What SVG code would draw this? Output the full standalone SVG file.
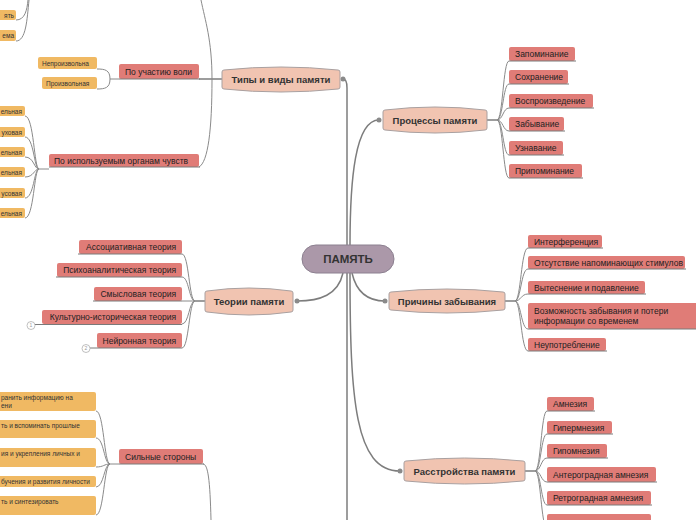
<svg xmlns="http://www.w3.org/2000/svg" width="696" height="520" viewBox="0 0 696 520">
<style>
.bg{fill:#ffffff}
.cn{fill:none;stroke:#8a8a8a;stroke-width:1}
.mc{fill:none;stroke:#7d7d7d;stroke-width:1.5}
.dot{fill:#8a8a8a}
.br{fill:#f1c4b1;stroke:#a9a0a0;stroke-width:1}
.brt{font-family:"Liberation Sans",Arial,sans-serif;font-size:9.5px;font-weight:bold;fill:#333;text-anchor:middle}
.ctr{fill:#ab98a9;stroke:#8c8090;stroke-width:1}
.ctt{font-family:"Liberation Sans",Arial,sans-serif;font-size:11.5px;font-weight:bold;fill:#333;text-anchor:middle}
.rd{fill:#e07c77}
.rdt{font-family:"Liberation Sans",Arial,sans-serif;font-size:8.5px;fill:#222}
.og{fill:#f0b963}
.ogt{font-family:"Liberation Sans",Arial,sans-serif;font-size:6.5px;fill:#333}
.ul{stroke:#7a7a7a;stroke-width:1}
.num{fill:#fff;stroke:#b0b0b0;stroke-width:0.8}
.numt{font-family:"Liberation Sans",Arial,sans-serif;font-size:5px;fill:#999;text-anchor:middle}
.end{text-anchor:end}
</style>
<rect class="bg" x="0" y="0" width="696" height="520"/>

<g id="connectors">
  <!-- main connectors from center -->
  <path class="mc" d="M347,245 L347,88 Q347,79 343,79"/>
  <path class="mc" d="M350,245 C350,180 355,120 379,120"/>
  <path class="mc" d="M343,273 C338,295 320,301 297,301"/>
  <path class="mc" d="M352,273 C357,295 370,301 385,301"/>
  <path class="mc" d="M350,273 C350,400 355,471 400,471"/>
  <path class="mc" d="M347,273 L347,520"/>
  <circle class="dot" cx="343" cy="79" r="2.5"/>
  <circle class="dot" cx="379" cy="120" r="2.5"/>
  <circle class="dot" cx="297" cy="301" r="2.5"/>
  <circle class="dot" cx="385" cy="301" r="2.5"/>
  <circle class="dot" cx="400" cy="471" r="2.5"/>

  <!-- Типы и виды памяти -->
  <path class="mc" d="M222,79 L199,79"/>
  <path class="cn" d="M212,79 C212,40 205,20 201,0"/>
  <path class="cn" d="M212,79 C212,130 208,162 199,167"/>
  <!-- По участию воли children -->
  <path class="cn" d="M119,79 L110,79"/>
  <path class="cn" d="M110,79 C110,70 105,69 97,69"/>
  <path class="cn" d="M110,79 C110,88 105,89 97,89"/>
  <!-- top orange -->
  <path class="cn" d="M16,20 C25,20 27,10 28,0"/>
  <path class="cn" d="M16,41 C26,41 27,20 29,0"/>
  <!-- senses children -->
  <path class="cn" d="M49,169 L39,169"/>
  <path class="cn" d="M39,169 C34,169 34,116 25,116"/>
  <path class="cn" d="M39,169 C34,169 34,137 25,137"/>
  <path class="cn" d="M39,169 C34,169 34,157 25,157"/>
  <path class="cn" d="M39,169 C34,169 34,177 25,177"/>
  <path class="cn" d="M39,169 C34,169 34,198 25,198"/>
  <path class="cn" d="M39,169 C34,169 34,218 25,218"/>

  <!-- Процессы -->
  <path class="mc" d="M487,120 L497,120"/>
  <path class="cn" d="M497,120 C503,120 503,61 509,61"/>
  <path class="cn" d="M497,120 C503,120 503,84 509,84"/>
  <path class="cn" d="M497,120 C503,120 503,108 509,108"/>
  <path class="cn" d="M497,120 C503,120 503,131 509,131"/>
  <path class="cn" d="M497,120 C503,120 503,155 509,155"/>
  <path class="cn" d="M497,120 C503,120 503,178 509,178"/>

  <!-- Причины -->
  <path class="mc" d="M505,301 L515,301"/>
  <path class="cn" d="M515,301 C521,301 521,248 528,248"/>
  <path class="cn" d="M515,301 C521,301 521,269 528,269"/>
  <path class="cn" d="M515,301 C521,301 521,294 528,294"/>
  <path class="cn" d="M515,301 C521,301 521,329 528,329"/>
  <path class="cn" d="M515,301 C521,301 521,351 528,351"/>

  <!-- Теории -->
  <path class="mc" d="M205,301 L195,301"/>
  <path class="cn" d="M195,301 C189,301 189,254 182,254"/>
  <path class="cn" d="M195,301 C189,301 189,277 182,277"/>
  <path class="cn" d="M195,301 L182,301"/>
  <path class="cn" d="M195,301 C189,301 189,324 182,324"/>
  <path class="cn" d="M195,301 C189,301 189,348 182,348"/>

  <!-- Расстройства -->
  <path class="mc" d="M525,471 L535,471"/>
  <path class="cn" d="M535,471 C541,471 541,411 547,411"/>
  <path class="cn" d="M535,471 C541,471 541,434 547,434"/>
  <path class="cn" d="M535,471 C541,471 541,458 547,458"/>
  <path class="cn" d="M535,471 C541,471 541,482 547,482"/>
  <path class="cn" d="M535,471 C541,471 541,505 547,505"/>
  <path class="cn" d="M535,471 C541,471 541,528 547,528"/>

  <!-- Сильные стороны -->
  <path class="cn" d="M203,464 C208,464 210,480 211,520"/>
  <path class="cn" d="M119,464 L110,464"/>
  <path class="cn" d="M110,464 C104,464 104,411 96,411"/>
  <path class="cn" d="M110,464 C104,464 104,438 96,438"/>
  <path class="cn" d="M110,464 C104,464 104,467 96,467"/>
  <path class="cn" d="M110,464 C104,464 104,487 96,487"/>
  <path class="cn" d="M110,464 C104,464 104,515 96,515"/>
</g>

<g id="center">
  <rect class="ctr" x="302" y="245" width="92" height="28" rx="14"/>
  <text class="ctt" x="348" y="263">ПАМЯТЬ</text>
</g>

<g id="types">
  <path class="br" d="M224,70 Q281,64 338,70 Q340,70 340,72 L340,87 Q340,89 338,89 Q281,95 224,89 Q222,89 222,87 L222,72 Q222,70 224,70 Z"/>
  <text class="brt" x="281" y="83">Типы и виды памяти</text>
</g>
<g id="processes">
  <path class="br" d="M385,110 Q435,104 485,110 Q487,110 487,112 L487,128 Q487,130 485,130 Q435,136 385,130 Q383,130 383,128 L383,112 Q383,110 385,110 Z"/>
  <text class="brt" x="435" y="123.5">Процессы памяти</text>
</g>
<g id="causes">
  <path class="br" d="M391,292 Q447,286 503,292 Q505,292 505,294 L505,308 Q505,310 503,310 Q447,316 391,310 Q389,310 389,308 L389,294 Q389,292 391,292 Z"/>
  <text class="brt" x="447" y="304.5">Причины забывания</text>
</g>
<g id="theories">
  <path class="br" d="M207,291 Q249,285 291,291 Q293,291 293,293 L293,310 Q293,312 291,312 Q249,318 207,312 Q205,312 205,310 L205,293 Q205,291 207,291 Z"/>
  <text class="brt" x="249" y="304.5">Теории памяти</text>
</g>
<g id="disorders">
  <path class="br" d="M406,461 Q464.5,455 523,461 Q525,461 525,463 L525,479 Q525,481 523,481 Q464.5,487 406,481 Q404,481 404,479 L404,463 Q404,461 406,461 Z"/>
  <text class="brt" x="464.5" y="474.5">Расстройства памяти</text>
</g>

<!-- Types children -->
<g id="top-orange-1"><rect class="og" x="-4" y="10" width="20" height="10" rx="2"/><text class="ogt end" x="14" y="17.5">ять</text></g>
<g id="top-orange-2"><rect class="og" x="-4" y="30" width="20" height="11" rx="2"/><text class="ogt end" x="14" y="37.5">ема</text></g>

<g id="will"><rect class="rd" x="119" y="64" width="80" height="15" rx="2"/><line class="ul" x1="119" y1="79" x2="200" y2="79"/><text class="rdt" x="125" y="74.5">По участию воли</text></g>
<g id="will-1"><rect class="og" x="38" y="57" width="59" height="12" rx="2"/><text class="ogt" x="42" y="65.5">Непроизвольна</text></g>
<g id="will-2"><rect class="og" x="42" y="77" width="55" height="12" rx="2"/><text class="ogt" x="46" y="85.5">Произвольная</text></g>

<g id="senses"><rect class="rd" x="49" y="154" width="150" height="13" rx="2"/><line class="ul" x1="49" y1="167" x2="200" y2="167"/><text class="rdt" x="54" y="163.5">По используемым органам чувств</text></g>
<g id="sense-1"><rect class="og" x="-4" y="106" width="29" height="10" rx="2"/><text class="ogt end" x="22" y="113.5">ельная</text></g>
<g id="sense-2"><rect class="og" x="-4" y="127" width="29" height="10" rx="2"/><text class="ogt end" x="22" y="134.5">уховая</text></g>
<g id="sense-3"><rect class="og" x="-4" y="147" width="29" height="10" rx="2"/><text class="ogt end" x="22" y="154.5">ельная</text></g>
<g id="sense-4"><rect class="og" x="-4" y="167" width="29" height="10" rx="2"/><text class="ogt end" x="22" y="174.5">ельная</text></g>
<g id="sense-5"><rect class="og" x="-4" y="188" width="29" height="10" rx="2"/><text class="ogt end" x="22" y="195.5">усовая</text></g>
<g id="sense-6"><rect class="og" x="-4" y="208" width="29" height="10" rx="2"/><text class="ogt end" x="22" y="215.5">ельная</text></g>

<!-- Processes children -->
<g id="p1"><rect class="rd" x="509" y="47" width="66" height="14" rx="2"/><line class="ul" x1="509" y1="61" x2="576" y2="61"/><text class="rdt" x="515" y="57">Запоминание</text></g>
<g id="p2"><rect class="rd" x="509" y="70" width="59" height="14" rx="2"/><line class="ul" x1="509" y1="84" x2="569" y2="84"/><text class="rdt" x="515" y="80">Сохранение</text></g>
<g id="p3"><rect class="rd" x="509" y="94" width="84" height="14" rx="2"/><line class="ul" x1="509" y1="108" x2="594" y2="108"/><text class="rdt" x="515" y="104">Воспроизведение</text></g>
<g id="p4"><rect class="rd" x="509" y="117" width="55" height="14" rx="2"/><line class="ul" x1="509" y1="131" x2="565" y2="131"/><text class="rdt" x="515" y="127">Забывание</text></g>
<g id="p5"><rect class="rd" x="509" y="141" width="54" height="14" rx="2"/><line class="ul" x1="509" y1="155" x2="564" y2="155"/><text class="rdt" x="515" y="151">Узнавание</text></g>
<g id="p6"><rect class="rd" x="509" y="164" width="73" height="14" rx="2"/><line class="ul" x1="509" y1="178" x2="583" y2="178"/><text class="rdt" x="515" y="174">Припоминание</text></g>

<!-- Causes children -->
<g id="c1"><rect class="rd" x="528" y="235" width="74" height="13" rx="2"/><line class="ul" x1="528" y1="248" x2="603" y2="248"/><text class="rdt" x="534" y="244.5">Интерференция</text></g>
<g id="c2"><rect class="rd" x="528" y="256" width="157" height="13" rx="2"/><line class="ul" x1="528" y1="269" x2="686" y2="269"/><text class="rdt" x="534" y="265.5" textLength="149" lengthAdjust="spacingAndGlyphs">Отсутствие напоминающих стимулов</text></g>
<g id="c3"><rect class="rd" x="528" y="281" width="117" height="13" rx="2"/><line class="ul" x1="528" y1="294" x2="646" y2="294"/><text class="rdt" x="534" y="290.5">Вытеснение и подавление</text></g>
<g id="c4"><rect class="rd" x="528" y="303" width="170" height="26" rx="2"/><line class="ul" x1="528" y1="329" x2="698" y2="329"/><text class="rdt" x="534" y="313.5">Возможность забывания и потери</text><text class="rdt" x="534" y="324">информации со временем</text></g>
<g id="c5"><rect class="rd" x="528" y="338" width="78" height="13" rx="2"/><line class="ul" x1="528" y1="351" x2="607" y2="351"/><text class="rdt" x="534" y="347.5">Неупотребление</text></g>

<!-- Theories children -->
<g id="t1"><rect class="rd" x="79" y="240" width="103" height="14" rx="2"/><line class="ul" x1="78" y1="254" x2="182" y2="254"/><text class="rdt end" x="176" y="250">Ассоциативная теория</text></g>
<g id="t2"><rect class="rd" x="57" y="263" width="125" height="14" rx="2"/><line class="ul" x1="56" y1="277" x2="182" y2="277"/><text class="rdt end" x="176" y="273">Психоаналитическая теория</text></g>
<g id="t3"><rect class="rd" x="94" y="287" width="88" height="14" rx="2"/><line class="ul" x1="93" y1="301" x2="182" y2="301"/><text class="rdt end" x="176" y="297">Смысловая теория</text></g>
<g id="t4"><rect class="rd" x="42" y="310" width="140" height="14" rx="2"/><line class="ul" x1="35" y1="324.5" x2="182" y2="324.5"/><circle class="num" cx="31" cy="325.5" r="4"/><text class="numt" x="31" y="327.3">1</text><text class="rdt end" x="176" y="320">Культурно-историческая теория</text></g>
<g id="t5"><rect class="rd" x="97" y="333" width="85" height="15" rx="2"/><line class="ul" x1="90" y1="348" x2="182" y2="348"/><circle class="num" cx="86" cy="348.5" r="4"/><text class="numt" x="86" y="350.3">2</text><text class="rdt end" x="176" y="343.5">Нейронная теория</text></g>

<!-- Strengths -->
<g id="strengths"><rect class="rd" x="119" y="449" width="84" height="15" rx="2"/><line class="ul" x1="119" y1="464" x2="204" y2="464"/><text class="rdt" x="125" y="459.5">Сильные стороны</text></g>
<g id="s1"><rect class="og" x="-4" y="392" width="100" height="19" rx="2"/><text class="ogt" x="1" y="399.5">ранить информацию на</text><text class="ogt" x="1" y="407.5">ени</text></g>
<g id="s2"><rect class="og" x="-4" y="420" width="100" height="18" rx="2"/><text class="ogt" x="1" y="428">ть и вспоминать прошлые</text></g>
<g id="s3"><rect class="og" x="-4" y="448" width="100" height="19" rx="2"/><text class="ogt" x="1" y="456">ия и укрепления личных и</text></g>
<g id="s4"><rect class="og" x="-4" y="476" width="100" height="11" rx="2"/><text class="ogt" x="1" y="484">бучения и развития личности</text></g>
<g id="s5"><rect class="og" x="-4" y="496" width="100" height="19" rx="2"/><text class="ogt" x="1" y="504">ть и синтезировать</text></g>

<!-- Disorders children -->
<g id="d1"><rect class="rd" x="547" y="397" width="47" height="14" rx="2"/><line class="ul" x1="547" y1="411" x2="595" y2="411"/><text class="rdt" x="553" y="407">Амнезия</text></g>
<g id="d2"><rect class="rd" x="547" y="421" width="65" height="13" rx="2"/><line class="ul" x1="547" y1="434" x2="613" y2="434"/><text class="rdt" x="553" y="430.5">Гипермнезия</text></g>
<g id="d3"><rect class="rd" x="547" y="444" width="60" height="14" rx="2"/><line class="ul" x1="547" y1="458" x2="608" y2="458"/><text class="rdt" x="553" y="454">Гипомнезия</text></g>
<g id="d4"><rect class="rd" x="547" y="467" width="109" height="15" rx="2"/><line class="ul" x1="547" y1="482" x2="657" y2="482"/><text class="rdt" x="553" y="477.5">Антероградная амнезия</text></g>
<g id="d5"><rect class="rd" x="547" y="491" width="104" height="14" rx="2"/><line class="ul" x1="547" y1="505" x2="652" y2="505"/><text class="rdt" x="553" y="501">Ретроградная амнезия</text></g>
<g id="d6"><rect class="rd" x="547" y="514" width="104" height="14" rx="2"/></g>
</svg>
